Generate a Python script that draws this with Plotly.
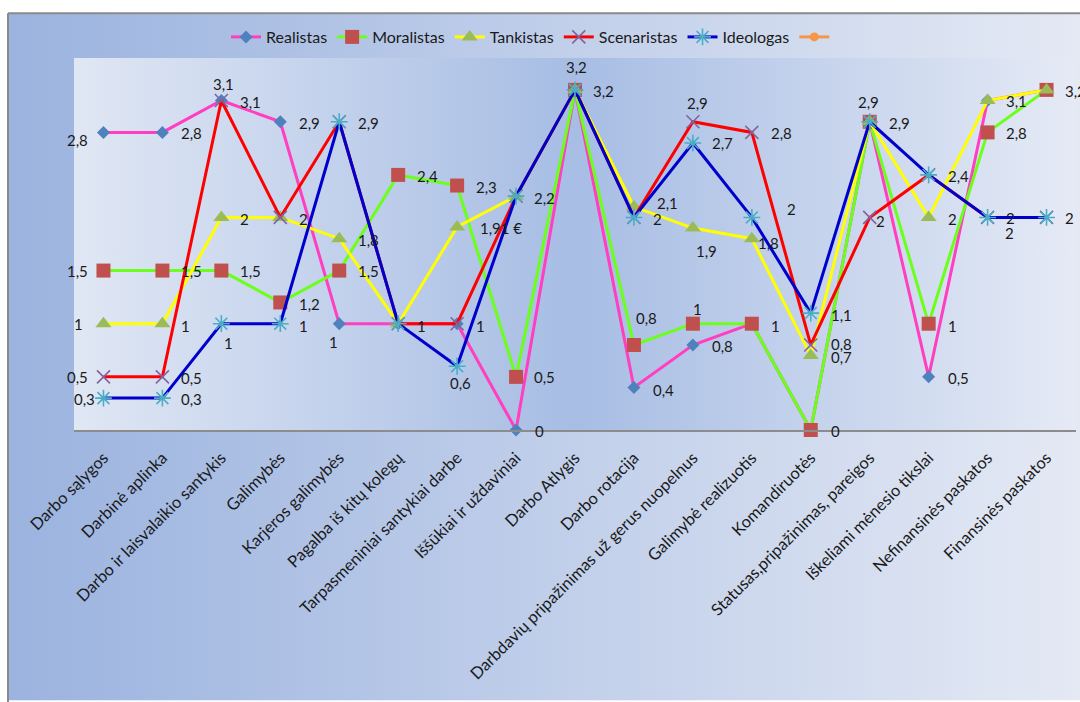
import base64
import plotly.graph_objects as go

# ---- data -------------------------------------------------------------
categories = [
    "Darbo sąlygos", "Darbinė aplinka", "Darbo ir laisvalaikio santykis",
    "Galimybės", "Karjeros galimybės", "Pagalba iš kitų kolegų",
    "Tarpasmeniniai santykiai darbe", "Iššūkiai ir uždaviniai", "Darbo Atlygis",
    "Darbo rotacija", "Darbdavių pripažinimas už gerus nuopelnus",
    "Galimybė realizuotis", "Komandiruotės", "Statusas,pripažinimas, pareigos",
    "Iškeliami mėnesio tikslai", "Nefinansinės paskatos", "Finansinės paskatos",
]

realistas = [2.8, 2.8, 3.1, 2.9, 1, 1, 1, 0, 3.2, 0.4, 0.8, 1, 0, 2.9, 0.5, 3.1, 3.2]
moralistas = [1.5, 1.5, 1.5, 1.2, 1.5, 2.4, 2.3, 0.5, 3.2, 0.8, 1, 1, 0, 2.9, 1, 2.8, 3.2]
tankistas = [1, 1, 2, 2, 1.8, 1, 1.91, 2.2, 3.2, 2.1, 1.9, 1.8, 0.7, 2.9, 2, 3.1, 3.2]
scenaristas = [0.5, 0.5, 3.1, 2, 2.9, 1, 1, 2.2, 3.2, 2, 2.9, 2.8, 0.8, 2, 2.4, 2, 2]
ideologas = [0.3, 0.3, 1, 1, 2.9, 1, 0.6, 2.2, 3.2, 2, 2.7, 2, 1.1, 2.9, 2.4, 2, 2]

series = {
    "Realistas": realistas,
    "Moralistas": moralistas,
    "Tankistas": tankistas,
    "Scenaristas": scenaristas,
    "Ideologas": ideologas,
}

styles = {
    "Realistas": dict(line="#ff3fc0", marker=dict(symbol="diamond", size=10, color="#4f81bd")),
    "Moralistas": dict(line="#6cff1c", marker=dict(symbol="square", size=14, color="#c0504d")),
    "Tankistas": dict(line="#ffff00", marker=dict(symbol="triangle-up", size=14, color="#9bbb59")),
    "Scenaristas": dict(line="#ff0000", marker=dict(symbol="x-thin-open", size=13, color="#8064a2",
                                                     line=dict(width=1.6, color="#8064a2"))),
    "Ideologas": dict(line="#0000cc", marker=dict(symbol="asterisk-open", size=14, color="#4bacc6",
                                                   line=dict(width=1.6, color="#4bacc6"))),
}

# data labels: (series, category index, placement, dx px, dy px down)
# placement: r = text starts right of point, l = text ends left of point, c = centred
labels = [
    ("Realistas", 0, "l", -13, 8), ("Moralistas", 0, "l", -13, 0), ("Tankistas", 0, "l", -18, 0),
    ("Scenaristas", 0, "l", -13, 0), ("Ideologas", 0, "l", -6, 1),
    ("Realistas", 1, "r", 17, 1), ("Moralistas", 1, "r", 17, 0), ("Tankistas", 1, "r", 17, 2),
    ("Scenaristas", 1, "r", 17, 1), ("Ideologas", 1, "r", 17, 1),
    ("Realistas", 2, "c", 2, -17), ("Scenaristas", 2, "r", 17, 1), ("Tankistas", 2, "r", 17, 2),
    ("Moralistas", 2, "r", 17, 0), ("Ideologas", 2, "c", 7, 19),
    ("Realistas", 3, "r", 17, 1), ("Scenaristas", 3, "r", 17, 2), ("Moralistas", 3, "r", 17, 2),
    ("Ideologas", 3, "r", 17, 2),
    ("Ideologas", 4, "r", 17, 1), ("Tankistas", 4, "r", 17, 1), ("Moralistas", 4, "r", 17, 0),
    ("Realistas", 4, "c", -6, 18),
    ("Moralistas", 5, "r", 17, 1), ("Tankistas", 5, "r", 17, 2),
    ("Moralistas", 6, "r", 17, 1), ("Tankistas", 6, "r", 21, 1), ("Scenaristas", 6, "r", 17, 2),
    ("Ideologas", 6, "c", 3, 17),
    ("Ideologas", 7, "r", 16, 2), ("Moralistas", 7, "r", 16, 0), ("Realistas", 7, "r", 17, 1),
    ("Realistas", 8, "c", 1, -23), ("Moralistas", 8, "r", 16, 1),
    ("Tankistas", 9, "r", 21, -4), ("Ideologas", 9, "r", 17, 2), ("Moralistas", 9, "c", 13, -27),
    ("Realistas", 9, "r", 17, 3),
    ("Scenaristas", 10, "c", 5, -19), ("Ideologas", 10, "r", 17, 0), ("Tankistas", 10, "c", 14, 23),
    ("Moralistas", 10, "c", 5, -15), ("Realistas", 10, "r", 17, 1),
    ("Scenaristas", 11, "r", 17, 1), ("Ideologas", 11, "c", 40, -8), ("Tankistas", 11, "r", 4, 4),
    ("Moralistas", 11, "r", 17, 2),
    ("Ideologas", 12, "r", 18, 2), ("Scenaristas", 12, "r", 18, -1), ("Tankistas", 12, "r", 18, 1),
    ("Moralistas", 12, "r", 18, 1),
    ("Moralistas", 13, "c", -1, -20), ("Ideologas", 13, "r", 17, 1), ("Scenaristas", 13, "r", 4, 4),
    ("Ideologas", 14, "r", 17, 1), ("Tankistas", 14, "r", 17, 2), ("Moralistas", 14, "r", 17, 2),
    ("Realistas", 14, "r", 17, 1),
    ("Tankistas", 15, "r", 16, 0), ("Moralistas", 15, "r", 16, 1), ("Ideologas", 15, "r", 16, 1),
    ("Scenaristas", 15, "c", 22, 16),
    ("Moralistas", 16, "r", 16, 1), ("Ideologas", 16, "r", 16, 1),
]
label_suffix = {("Tankistas", 6): " €"}

# ---- layout geometry --------------------------------------------------
W, H = 1080, 702
ML, MR, MT, MB = 74, 4, 56, 272
PW, PH = W - ML - MR, H - MT - MB
FONT = "Lato, 'Open Sans', sans-serif"


def px_to_paper_x(px):
    return (px - ML) / PW


def px_to_paper_y(py):
    return (H - MB - py) / PH


def gradient_uri(stops):
    stop_xml = "".join(
        f'<stop offset="{o}" stop-color="{c}"/>' for o, c in stops
    )
    svg = (
        '<svg xmlns="http://www.w3.org/2000/svg" width="100" height="100" '
        'preserveAspectRatio="none" viewBox="0 0 100 100">'
        f'<defs><linearGradient id="g" x1="0" y1="0" x2="1" y2="0">{stop_xml}</linearGradient></defs>'
        '<rect x="0" y="0" width="100" height="100" fill="url(#g)"/></svg>'
    )
    return "data:image/svg+xml;base64," + base64.b64encode(svg.encode()).decode()


fig = go.Figure()

for name, vals in series.items():
    st = styles[name]
    fig.add_trace(go.Scatter(
        x=categories, y=vals, name=name, mode="lines+markers",
        line=dict(color=st["line"], width=3),
        marker=st["marker"], cliponaxis=False,
    ))

# empty sixth series present only in the legend
fig.add_trace(go.Scatter(
    x=[None], y=[None], name=" ", mode="lines+markers",
    line=dict(color="#f79646", width=3),
    marker=dict(symbol="circle", size=9, color="#f79646"),
))

annotations = []
for name, idx, place, dx, dy in labels:
    v = series[name][idx]
    txt = f"{v:g}".replace(".", ",") + label_suffix.get((name, idx), "")
    anchor = {"r": "left", "l": "right", "c": "center"}[place]
    annotations.append(dict(
        x=categories[idx], y=v, xref="x", yref="y", text=txt, showarrow=False,
        xanchor=anchor, yanchor="middle", xshift=dx, yshift=-dy,
        font=dict(family=FONT, size=15, color="#1a1a1a"),
    ))

outer = gradient_uri([(0, "#9bb3df"), (1, "#e4e9f4")])
inner = gradient_uri([(0, "#e0e7f4"), (0.5, "#a7bde4"), (1, "#e5eaf5")])

images = [
    dict(source=outer, xref="paper", yref="paper",
         x=px_to_paper_x(8), y=px_to_paper_y(11),
         sizex=(W - 8) / PW, sizey=(H - 11) / PH,
         xanchor="left", yanchor="top", sizing="stretch", layer="below"),
    dict(source=inner, xref="paper", yref="paper", x=0, y=1, sizex=1, sizey=1,
         xanchor="left", yanchor="top", sizing="stretch", layer="below"),
]

shapes = [
    dict(type="line", xref="paper", yref="paper",
         x0=px_to_paper_x(8), x1=px_to_paper_x(W + 2),
         y0=px_to_paper_y(11), y1=px_to_paper_y(11),
         line=dict(color="#8a8a8a", width=2), layer="above"),
    dict(type="line", xref="paper", yref="paper",
         x0=px_to_paper_x(8), x1=px_to_paper_x(8),
         y0=px_to_paper_y(11), y1=px_to_paper_y(H + 2),
         line=dict(color="#8a8a8a", width=2), layer="above"),
]

fig.update_layout(
    width=W, height=H,
    margin=dict(l=ML, r=MR, t=MT, b=MB, pad=0),
    paper_bgcolor="white", plot_bgcolor="rgba(0,0,0,0)",
    images=images, shapes=shapes, annotations=annotations,
    showlegend=True,
    legend=dict(
        orientation="h", xref="container", yref="container",
        x=535 / W, xanchor="center", y=1 - 37 / H, yanchor="middle",
        bgcolor="rgba(0,0,0,0)", font=dict(family=FONT, size=16, color="#1a1a1a"),
        itemwidth=30, traceorder="normal",
    ),
    font=dict(family=FONT, size=15, color="#1a1a1a"),
)

fig.update_xaxes(
    type="category", range=[-0.5, len(categories) - 0.5],
    showline=True, linecolor="#8c8c8c", linewidth=1.5,
    showgrid=False, zeroline=False, ticks="",
    tickangle=-45, ticklabelstandoff=10,
    tickfont=dict(family=FONT, size=16.5, color="#1a1a1a"),
)
fig.update_yaxes(range=[0, 3.5], visible=False, showgrid=False, zeroline=False)

fig.write_html("out.html")
